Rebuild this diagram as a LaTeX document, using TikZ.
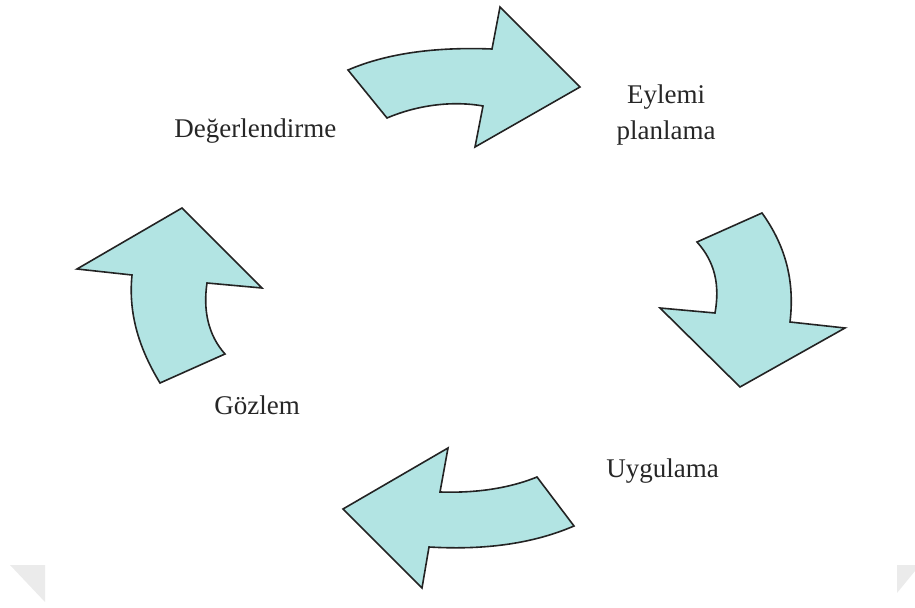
\documentclass[tikz,border=0pt]{standalone}
\usepackage{fontspec}
\setmainfont{Liberation Serif}
\definecolor{arrowfill}{RGB}{178,228,227}
\definecolor{arrowline}{RGB}{35,35,35}
\begin{document}
\begin{tikzpicture}[x=0.5pt,y=-0.5pt,
    cyclearrow/.style={fill=arrowfill,draw=arrowline,line width=0.8pt,line join=miter},
    lbl/.style={inner sep=0pt,text=black!85,font=\fontsize{13.5}{16.5}\selectfont},
    pagecorner/.style={fill=black!8,draw=none}]
  \useasboundingbox (0,0) rectangle (915,608);
  % arrows of the cycle
  \path[cyclearrow] (348,70) .. controls (390,52) and (440,47) .. (492,49) -- (500,7) -- (580,87)
    -- (475,147) -- (483,106) .. controls (455,101) and (420,104) .. (387,118) -- cycle;
  \path[cyclearrow] (697,242) -- (762,213) .. controls (785,245) and (795,280) .. (790,322)
    -- (845,328) -- (740,387) -- (660,308) -- (715,313) .. controls (720,285) and (715,262) .. (697,242) -- cycle;
  \path[cyclearrow] (537,477) -- (574,526) .. controls (530,545) and (480,550) .. (429,547)
    -- (422,588) -- (343,509) -- (448,448) -- (440,492) .. controls (470,493) and (505,490) .. (537,477) -- cycle;
  \path[cyclearrow] (160,383) -- (225,354) .. controls (208,335) and (203,310) .. (207,283)
    -- (262,288) -- (182,208) -- (77,269) -- (132,275) .. controls (128,315) and (140,350) .. (160,383) -- cycle;
  % labels
  \node[lbl,anchor=base west] (deger) at (174,138) {Değerlendirme};
  \node[lbl,anchor=base,align=center] (eylem) at (666,140) {Eylemi\\[1.5pt]planlama};
  \node[lbl,anchor=base west] (uygu) at (606,478) {Uygulama};
  \node[lbl,anchor=base west] (gozlem) at (214,415) {Gözlem};
  % page corners
  \path[pagecorner] (10,565) -- (45,565) -- (45,602) -- cycle;
  \path[pagecorner] (897,565) -- (915,565) -- (915,571) -- (897,593) -- cycle;
\end{tikzpicture}
\end{document}
